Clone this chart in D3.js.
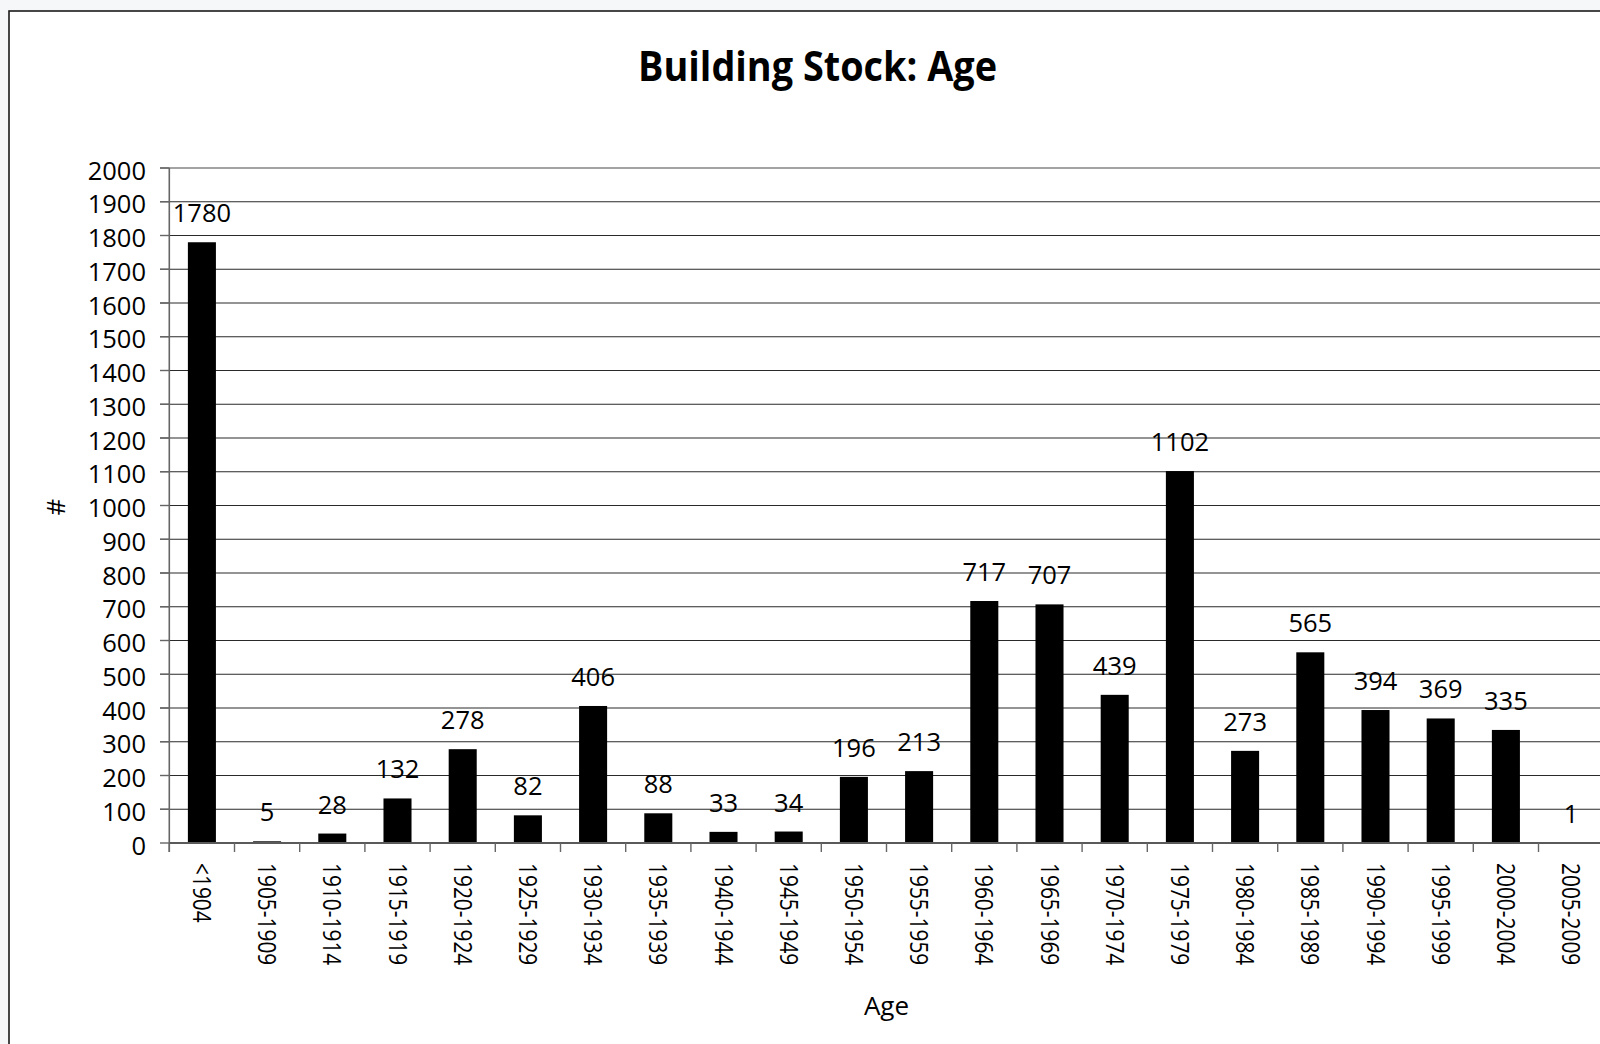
<!DOCTYPE html>
<html>
<head>
<meta charset="utf-8">
<script src="https://cdn.jsdelivr.net/npm/d3@7"></script>
<style>
  html, body { margin: 0; padding: 0; background: #f6f7f9; }
  svg { display: block; }
  text { font-family: "Open Sans", "Noto Sans", sans-serif; fill: #000; }
</style>
</head>
<body>
<svg id="chart" width="1600" height="1044"></svg>
<script>
const categories = ["<1904","1905-1909","1910-1914","1915-1919","1920-1924","1925-1929","1930-1934","1935-1939","1940-1944","1945-1949","1950-1954","1955-1959","1960-1964","1965-1969","1970-1974","1975-1979","1980-1984","1985-1989","1990-1994","1995-1999","2000-2004","2005-2009"];
const values = [1780,5,28,132,278,82,406,88,33,34,196,213,717,707,439,1102,273,565,394,369,335,1];
const yTicks = d3.range(0, 2001, 100);
const titleText = "Building Stock: Age";
const xTitle = "Age";
const yTitle = "#";

const svg = d3.select("#chart");

// outer chart border (extends beyond right/bottom edge)
svg.append("rect").attr("x", 9).attr("y", 11).attr("width", 1700).attr("height", 1100)
  .attr("fill", "#fff").attr("stroke", "#1a1a1a").attr("stroke-width", 1.6);

const x0 = 169.3, step = 65.2;
const x = d3.scaleBand().domain(categories)
  .range([x0, x0 + step * categories.length])
  .paddingInner(0.57).paddingOuter(0.285);
const y = d3.scaleLinear().domain([0, 2000]).range([843, 168]);

// gridlines
svg.append("g").selectAll("line").data(yTicks.filter(d => d > 0)).join("line")
  .attr("x1", 160).attr("x2", 1620)
  .attr("y1", d => y(d)).attr("y2", d => y(d))
  .attr("stroke", d => d === 2000 ? "#858585" : "#2a2a2a")
  .attr("stroke-width", d => d === 2000 ? 1.6 : 1.1);

// y tick labels
svg.append("g").selectAll("text").data(yTicks).join("text")
  .attr("x", 146).attr("y", d => y(d) + 11.7)
  .attr("text-anchor", "end").attr("font-size", 25.5)
  .text(d => d);

// bars
svg.append("g").selectAll("rect").data(values).join("rect")
  .attr("x", (d, i) => x(categories[i]))
  .attr("width", x.bandwidth())
  .attr("y", d => y(d))
  .attr("height", d => y(0) - y(d))
  .attr("fill", "#000");

// value labels
svg.append("g").selectAll("text").data(values).join("text")
  .attr("x", (d, i) => x(categories[i]) + x.bandwidth() / 2)
  .attr("y", d => y(d) - 20)
  .attr("text-anchor", "middle").attr("font-size", 25.5)
  .text(d => d);

// y axis line
svg.append("line").attr("x1", x0).attr("x2", x0).attr("y1", y(2000)).attr("y2", y(0) + 9)
  .attr("stroke", "#666").attr("stroke-width", 1.6);
// y tick marks
svg.append("g").selectAll("line").data(yTicks).join("line")
  .attr("x1", 160).attr("x2", x0).attr("y1", d => y(d)).attr("y2", d => y(d))
  .attr("stroke", "#666").attr("stroke-width", 1.4);

// x axis line
svg.append("line").attr("x1", x0).attr("x2", 1620).attr("y1", y(0)).attr("y2", y(0))
  .attr("stroke", "#5a5a5a").attr("stroke-width", 2);
// x ticks at band boundaries
svg.append("g").selectAll("line").data(d3.range(categories.length + 1)).join("line")
  .attr("x1", i => x0 + i * x.step()).attr("x2", i => x0 + i * x.step())
  .attr("y1", y(0)).attr("y2", y(0) + 9)
  .attr("stroke", "#666").attr("stroke-width", 1.4);

// x category labels (rotated)
svg.append("g").selectAll("text").data(categories).join("text")
  .attr("transform", d => `translate(${x(d) + x.bandwidth() / 2},863) rotate(90) scale(0.82,1)`)
  .attr("dy", "0.35em").attr("font-size", 25.5)
  .text(d => d);

// title
svg.append("text").attr("x", 817.5).attr("y", 81)
  .attr("text-anchor", "middle").attr("font-size", 41).attr("font-weight", 700)
  .attr("textLength", 359).attr("lengthAdjust", "spacingAndGlyphs")
  .text(titleText);

// axis titles
svg.append("text").attr("x", 886.5).attr("y", 1015)
  .attr("text-anchor", "middle").attr("font-size", 26).text(xTitle);
svg.append("text").attr("transform", "translate(56,507) rotate(-90)")
  .attr("text-anchor", "middle").attr("dy", "0.35em").attr("font-size", 26).text(yTitle);
</script>
</body>
</html>
